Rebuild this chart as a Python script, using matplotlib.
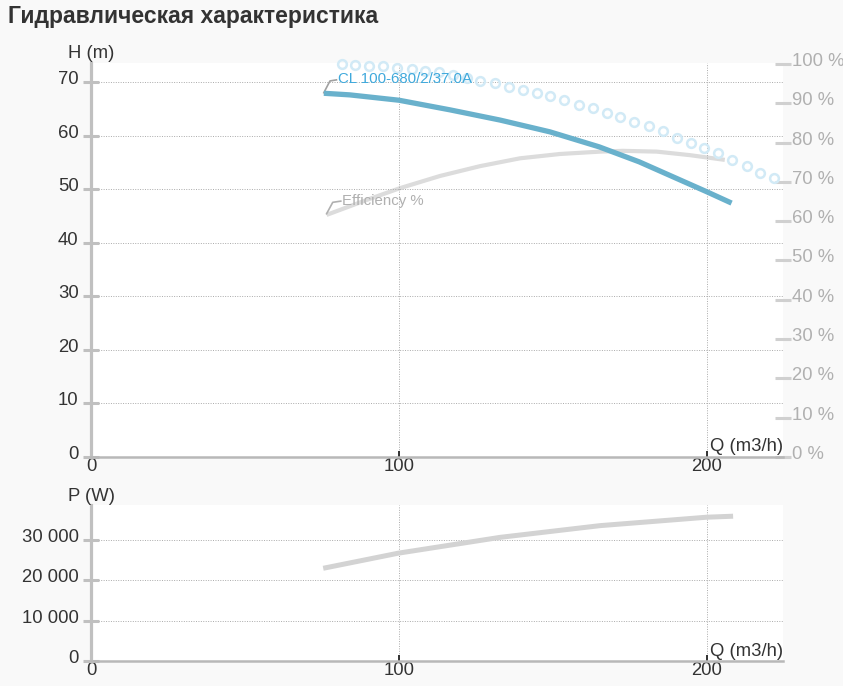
import matplotlib.pyplot as plt
from matplotlib.transforms import ScaledTranslation

plt.rcParams['font.family'] = ['Liberation Sans', 'DejaVu Sans']

# Кривая напора (H)
q_head = [75.6, 84, 100, 116.6, 132.8, 149, 165, 178, 189, 200, 208]
h_head = [67.9, 67.6, 66.6, 64.8, 62.9, 60.7, 57.9, 55.1, 52.3, 49.5, 47.4]

# Кружки (светло-голубые)
q_dots = [81.4, 85.7, 90.3, 94.8, 99.2, 104.1, 108.4, 113.1, 117.4, 122.0, 126.3,
          131.2, 135.7, 140.2, 144.7, 149.0, 153.7, 158.3, 162.9, 167.4, 171.9,
          176.4, 181.2, 185.7, 190.2, 194.7, 199.1, 203.7, 208.3, 212.9, 217.2, 221.8]
h_dots = [73.4, 73.2, 73.0, 72.9, 72.6, 72.4, 72.1, 71.8, 71.3, 70.7, 70.1,
          69.8, 69.0, 68.5, 67.9, 67.4, 66.6, 65.8, 65.1, 64.3, 63.4,
          62.5, 61.8, 60.9, 59.6, 58.7, 57.6, 56.7, 55.4, 54.3, 53.1, 52.0]

# КПД (%)
q_eff = [76.5, 89.5, 100.3, 113.3, 126.3, 139.3, 152.3, 158.8, 165.3, 172.7, 183.7, 194.5, 205.8]
eff = [61.6, 65.4, 68.4, 71.5, 74.0, 76.0, 77.1, 77.4, 77.7, 77.9, 77.7, 76.8, 75.6]

# Мощность (W)
q_pow = [75.4, 99.8, 132.8, 165.3, 199.9, 208.5]
p_pow = [23000, 26750, 30670, 33580, 35670, 35920]

h_ticks = [0, 10, 20, 30, 40, 50, 60, 70]
e_ticks = list(range(0, 101, 10))
p_ticks = [0, 10000, 20000, 30000]
p_labels = ['0', '10 000', '20 000', '30 000']
q_ticks = [0, 100, 200]

W, H = 843, 686
fig = plt.figure(figsize=(W / 100, H / 100), dpi=100, facecolor='#f9f9f9')

def box(l, t, r, b):
    return [l / W, 1 - b / H, (r - l) / W, (b - t) / H]

ax = fig.add_axes(box(91, 63, 783, 457))
axp = fig.add_axes(box(91, 505, 783, 661))

axis_grey = '#c0c0c0'
txt = '#333333'
fs = 13.3

def style(a, yticks, ylabels, ymax):
    a.set_facecolor('white')
    a.set_xlim(0, 224.7)
    a.set_ylim(0, ymax)
    for s in ['top', 'right']:
        a.spines[s].set_visible(False)
    a.spines['left'].set_color(axis_grey)
    a.spines['left'].set_linewidth(2.3)
    a.spines['bottom'].set_color('#b8b8b8')
    a.spines['bottom'].set_linewidth(1.8)
    a.set_yticks(yticks, ylabels)
    a.set_xticks(q_ticks)
    a.tick_params(axis='y', direction='inout', length=12, width=2.2,
                  color=axis_grey, labelsize=fs, labelcolor=txt, pad=3)
    a.tick_params(axis='x', direction='in', length=4, width=1.3,
                  color='#222222', labelsize=fs, labelcolor=txt, pad=0.5)
    a.grid(True, color='#aaaaaa', linestyle=(0, (1, 1.5)), linewidth=0.7)
    a.set_axisbelow(True)
    off = ScaledTranslation(0, -2 / 100, fig.dpi_scale_trans)
    for lab in a.get_yticklabels():
        lab.set_verticalalignment('baseline')
        lab.set_transform(lab.get_transform() + off)
    a.text(1, 0.004, 'Q (m3/h)', transform=a.transAxes, ha='right', va='bottom',
           fontsize=fs, color=txt)

style(ax, h_ticks, [str(t) for t in h_ticks], 73.55)
style(axp, p_ticks, p_labels, 38700)

ax.text(0, 1.003, 'H (m)', transform=ax.transAxes, ha='center', va='bottom',
        fontsize=fs, color=txt)
axp.text(0, 1.003, 'P (W)', transform=axp.transAxes, ha='center', va='bottom',
         fontsize=fs, color=txt)

# правая ось КПД
ax2 = ax.twinx()
ax2.set_ylim(0, 100.25)
for s in ax2.spines.values():
    s.set_visible(False)
ax2.set_yticks(e_ticks, [f'{t} %' for t in e_ticks])
ax2.tick_params(axis='y', direction='inout', length=11.5, width=2.2,
                color='#d0d0d0', labelsize=fs, labelcolor='#b0b0b0', pad=0.5)
off = ScaledTranslation(0, -2 / 100, fig.dpi_scale_trans)
for lab in ax2.get_yticklabels():
    lab.set_verticalalignment('baseline')
    lab.set_transform(lab.get_transform() + off)

ax2.plot(q_eff, eff, color='#dcdcdc', linewidth=3, solid_capstyle='butt', zorder=2)
ax2.plot([q_eff[0], q_eff[0] + 2, q_eff[0] + 4.6],
         [eff[0] + 0.3, eff[0] + 3.2, eff[0] + 3.5], color='#b0b0b0', linewidth=1.2)
ax2.text(q_eff[0] + 5.0, eff[0] + 3.6, 'Efficiency %', fontsize=10.8, color='#b0b0b0',
         va='center', ha='left')

ax.plot(q_dots, h_dots, linestyle='none', marker='o', markersize=6.3,
        markerfacecolor='none', markeredgecolor='#d2eaf6', markeredgewidth=1.8,
        clip_on=False, zorder=3)
ax.plot(q_head, h_head, color='#69b1cc', linewidth=3.8, solid_capstyle='butt', zorder=4)
ax.plot([q_head[0], q_head[0] + 2, q_head[0] + 4.1],
        [h_head[0] + 0.1, h_head[0] + 2.3, h_head[0] + 2.5], color='#a0a0a0', linewidth=1.2)
ax.text(q_head[0] + 4.6, h_head[0] + 2.6, 'CL 100-680/2/37.0A', fontsize=10.8,
        color='#3fa9dc', va='center', ha='left', zorder=5)
ax.set_zorder(ax2.get_zorder() + 1)
ax.patch.set_visible(False)
ax2.patch.set_visible(True)
ax2.patch.set_facecolor('white')

axp.plot(q_pow, p_pow, color='#d3d3d3', linewidth=3.6, solid_capstyle='butt')

fig.text(8 / W, 1 - 17 / H, 'Гидравлическая характеристика', fontsize=16.5,
         fontweight='bold', color='#333333', va='center', ha='left')

fig.savefig('out.png', dpi=100, facecolor=fig.get_facecolor())
